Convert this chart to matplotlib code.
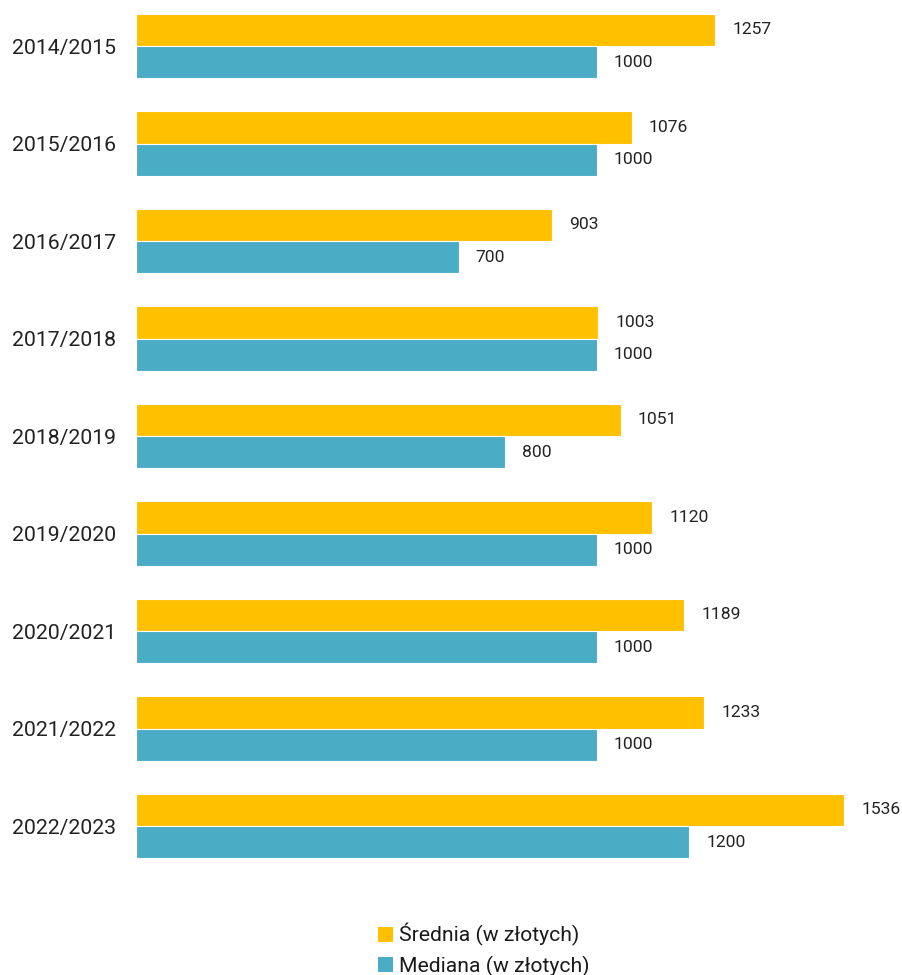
import matplotlib
matplotlib.use("Agg")
import matplotlib.pyplot as plt
from matplotlib.patches import Patch
import numpy as np

plt.rcParams['font.family'] = ['Roboto', 'DejaVu Sans']

categories = ["2014/2015", "2015/2016", "2016/2017", "2017/2018", "2018/2019",
              "2019/2020", "2020/2021", "2021/2022", "2022/2023"]
srednia = [1257, 1076, 903, 1003, 1051, 1120, 1189, 1233, 1536]
mediana = [1000, 1000, 700, 1000, 800, 1000, 1000, 1000, 1200]
series_names = ["Średnia (w złotych)", "Mediana (w złotych)"]
colors = ["#FFC000", "#4BACC6"]

W, H = 903, 975
fig = plt.figure(figsize=(W/100, H/100), dpi=100)
left_px, right_px, top_px, bot_px = 136, 880, 0, 880
ax = fig.add_axes([left_px/W, 1 - bot_px/H, (right_px-left_px)/W, (bot_px-top_px)/H])

y = np.arange(len(categories))
h = 0.333
ax.barh(y - h/2, srednia, height=h, color=colors[0], edgecolor='white', linewidth=0.8)
ax.barh(y + h/2, mediana, height=h, color=colors[1], edgecolor='white', linewidth=0.8)

px_per_unit = 0.461
ax.set_xlim(0, (right_px-left_px)/px_per_unit)
spacing = 97.5
c0 = 46.0
ax.set_ylim((bot_px - c0)/spacing, (top_px - c0)/spacing)

off = 17/px_per_unit
for i in range(len(categories)):
    ax.text(srednia[i] + off, y[i] - h/2, str(srednia[i]), va='center', ha='left', fontsize=12.6, color='#222222')
    ax.text(mediana[i] + off, y[i] + h/2, str(mediana[i]), va='center', ha='left', fontsize=12.6, color='#222222')

ax.set_yticks(y)
ax.set_yticklabels(categories, fontsize=15.3, color='#222222')
ax.tick_params(axis='y', length=0, pad=14.4)
ax.set_xticks([])
for s in ax.spines.values():
    s.set_visible(False)

handles = [Patch(facecolor=colors[0]), Patch(facecolor=colors[1])]
fig.legend(handles, series_names, loc='center', bbox_to_anchor=(484/W, 1 - 950/H),
           frameon=False, fontsize=15.2, handlelength=0.7, handleheight=0.7,
           handletextpad=0.3, labelspacing=0.45, borderpad=0, labelcolor='#1a1a1a')

fig.savefig("out.png", dpi=100)
